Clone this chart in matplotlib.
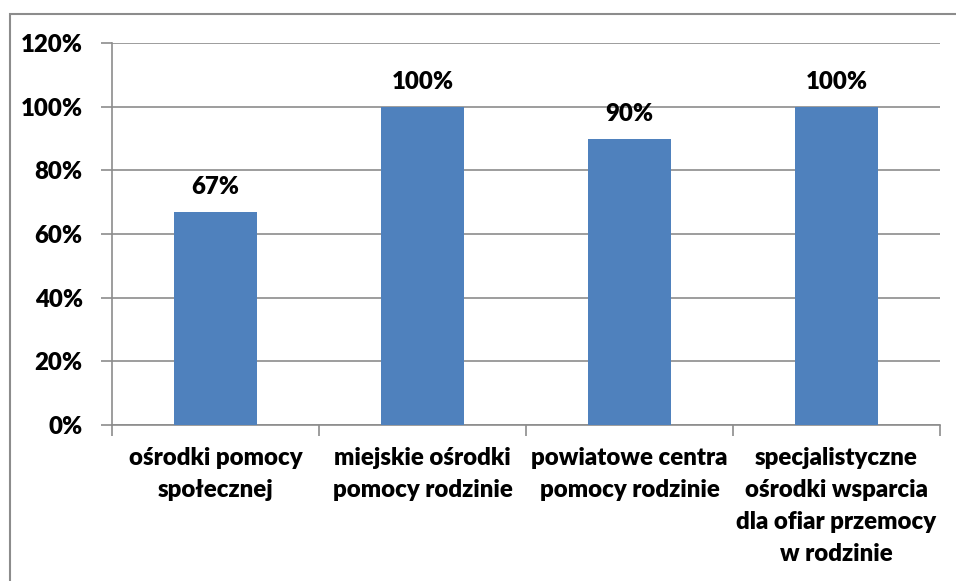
import matplotlib
matplotlib.use("Agg")
import matplotlib.pyplot as plt
from matplotlib.patches import Rectangle
import numpy as np

categories = ["ośrodki pomocy\nspołecznej",
              "miejskie ośrodki\npomocy rodzinie",
              "powiatowe centra\npomocy rodzinie",
              "specjalistyczne\nośrodki wsparcia\ndla ofiar przemocy\nw rodzinie"]
values = [67, 100, 90, 100]
value_labels = ["67%", "100%", "90%", "100%"]
yticks = [0, 20, 40, 60, 80, 100, 120]
ytick_labels = ["0%", "20%", "40%", "60%", "80%", "100%", "120%"]

FAM = 'Lato'
FS = 17.3
WT = 800

W, H = 956, 581
fig = plt.figure(figsize=(W/100, H/100), dpi=100)
ax = fig.add_axes([112/W, 1-425/H, (940-112)/W, (425-43)/H])

x = np.arange(len(values))
ax.bar(x, values, width=0.4, color="#4F81BD", zorder=3)
ax.set_xlim(-0.5, len(values)-0.5)
ax.set_ylim(0, 120)
ax.set_yticks(yticks)
ax.set_yticklabels(ytick_labels, fontsize=FS, fontweight=WT, family=FAM)
ax.yaxis.grid(True, color="#8C8C8C", linewidth=1.2, zorder=0)
ax.set_axisbelow(True)
ax.tick_params(axis='y', length=8, color="#8C8C8C", width=1.2, pad=13)
ax.set_xticks(np.arange(-0.5, len(values)))
ax.set_xticklabels([])
ax.set_xticks(x, minor=True)
ax.set_xticklabels(categories, minor=True, fontsize=FS, fontweight=WT, family=FAM,
                   linespacing=1.55, va='top')
ax.tick_params(axis='x', which='major', length=8, color="#8C8C8C", width=1.2)
ax.tick_params(axis='x', which='minor', length=0, pad=16)
for s in ['top', 'right']:
    ax.spines[s].set_visible(False)
for s in ['left', 'bottom']:
    ax.spines[s].set_color("#8C8C8C")
    ax.spines[s].set_linewidth(1.2)

for xi, v, lab in zip(x, values, value_labels):
    ax.annotate(lab, (xi, v), xytext=(0, 10), textcoords='offset points',
                ha='center', va='bottom', fontsize=FS, fontweight=WT, family=FAM)

fig.patches.append(Rectangle((10/W, -0.1), 1.2, 1-14/H+0.1, transform=fig.transFigure,
                             fill=False, edgecolor="#8C8C8C", linewidth=1.5))
fig.savefig("out.png", dpi=100)
